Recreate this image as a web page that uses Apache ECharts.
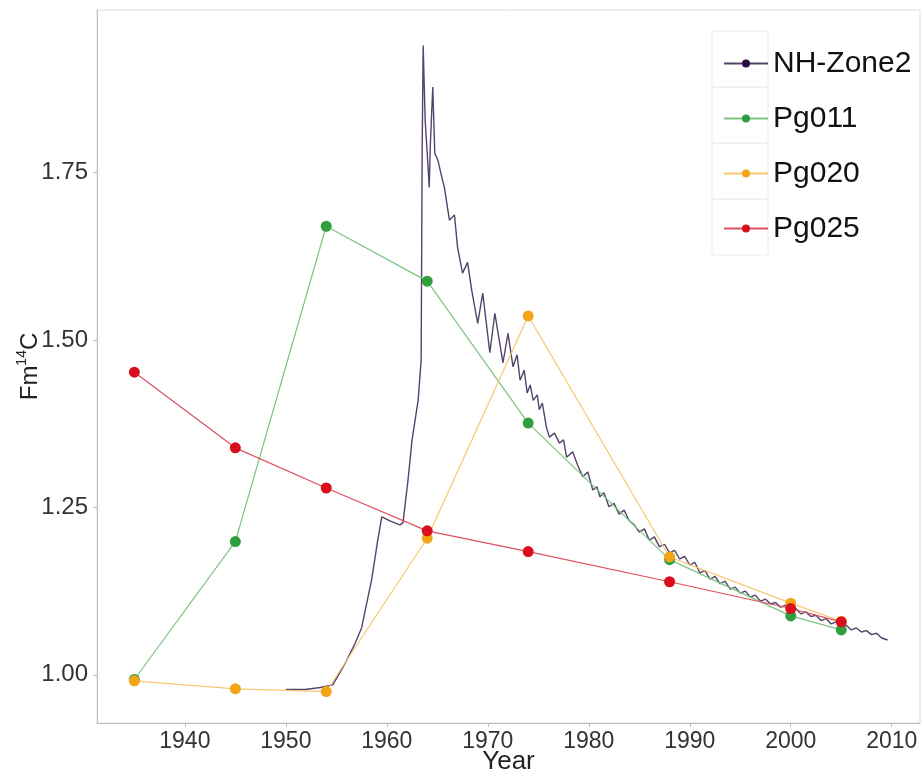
<!DOCTYPE html>
<html>
<head>
<meta charset="utf-8">
<script src="https://cdn.jsdelivr.net/npm/echarts@6/dist/echarts.min.js"></script>
<style>
  html, body { margin: 0; padding: 0; background: #fff; }
  #chart { width: 923px; height: 777px; }
</style>
</head>
<body>
<div id="chart"></div>
<script>
// sample years shared by the three profiles
const sampleYears = [1935, 1945, 1954, 1964, 1974, 1988, 2000, 2005]
const pg011 = [0.993, 1.199, 1.670, 1.588, 1.376, 1.172, 1.088, 1.067]
const pg020 = [0.991, 0.979, 0.975, 1.204, 1.536, 1.176, 1.107, 1.080]
const pg025 = [1.452, 1.339, 1.279, 1.215, 1.184, 1.139, 1.099, 1.079]

// atmospheric record
const nhYears = [
  1950.0, 1951.9, 1953.4, 1954.65, 1955.8, 1956.8, 1957.5, 1958.5, 1959.1, 1959.5,
  1960.3, 1961.3, 1961.6, 1962.1, 1962.5, 1963.1, 1963.4, 1963.5, 1963.6, 1963.8,
  1964.0, 1964.2, 1964.3, 1964.55, 1964.75, 1965.05, 1965.45, 1965.7, 1966.2, 1966.7,
  1967.0, 1967.5, 1968.0, 1968.4, 1969.0, 1969.5, 1970.2, 1970.7, 1971.5, 1972.0,
  1972.5, 1972.9, 1973.2, 1973.6, 1973.9, 1974.2, 1974.5, 1974.9, 1975.1, 1975.4,
  1975.8, 1976.1, 1976.6, 1977.1, 1977.5, 1977.8, 1978.4, 1978.9, 1979.4, 1979.9,
  1980.4, 1980.8, 1981.1, 1981.5, 1982.0, 1982.5, 1983.0, 1983.5, 1984.0, 1984.5,
  1985.0, 1985.5, 1986.0, 1986.5, 1987.0, 1987.5, 1988.0, 1988.5, 1989.0, 1989.5,
  1990.0, 1990.5, 1991.0, 1991.5, 1992.0, 1992.5, 1993.0, 1993.5, 1994.0, 1994.5,
  1995.0, 1995.5, 1996.0, 1996.5, 1997.0, 1997.5, 1998.0, 1998.5, 1999.0, 1999.5,
  2000.0, 2000.5, 2001.0, 2001.5, 2002.0, 2002.5, 2003.0, 2003.5, 2004.0, 2004.5,
  2005.0, 2005.5, 2006.0, 2006.5, 2007.0, 2007.5, 2008.0, 2008.5, 2009.0, 2009.6
]
const nhValues = [
  0.978, 0.978, 0.981, 0.985, 1.015, 1.045, 1.070, 1.142, 1.201, 1.236,
  1.230, 1.224, 1.227, 1.291, 1.351, 1.410, 1.470, 1.784, 1.940, 1.828,
  1.779, 1.728, 1.788, 1.878, 1.779, 1.769, 1.743, 1.728, 1.679, 1.687,
  1.639, 1.600, 1.616, 1.575, 1.525, 1.570, 1.481, 1.540, 1.466, 1.510,
  1.460, 1.478, 1.440, 1.455, 1.421, 1.433, 1.410, 1.418, 1.396, 1.406,
  1.370, 1.355, 1.361, 1.346, 1.351, 1.325, 1.333, 1.313, 1.296, 1.303,
  1.276, 1.281, 1.266, 1.272, 1.251, 1.256, 1.240, 1.246, 1.230, 1.224,
  1.213, 1.218, 1.201, 1.206, 1.191, 1.195, 1.182, 1.186, 1.173, 1.177,
  1.164, 1.168, 1.152, 1.156, 1.143, 1.147, 1.136, 1.140, 1.128, 1.131,
  1.122, 1.125, 1.116, 1.119, 1.110, 1.113, 1.106, 1.108, 1.101, 1.104,
  1.096, 1.099, 1.091, 1.094, 1.087, 1.089, 1.081, 1.084, 1.076, 1.079,
  1.072, 1.074, 1.067, 1.070, 1.064, 1.066, 1.060, 1.062, 1.055, 1.052
]

const xTicks = [1940, 1950, 1960, 1970, 1980, 1990, 2000, 2010]
const yTicks = [1.00, 1.25, 1.50, 1.75]

const zip = (xs, ys) => xs.map((x, i) => [x, ys[i]])

const font = 'Liberation Sans, Arial, sans-serif'

function profile (name, values, dot, line) {
  return {
    name: name,
    type: 'line',
    data: zip(sampleYears, values),
    symbol: 'circle',
    symbolSize: 11,
    itemStyle: { color: dot },
    lineStyle: { color: line, width: 1.2 },
    emphasis: { disabled: true },
    z: 3
  }
}

const chart = echarts.init(document.getElementById('chart'), null, { renderer: 'canvas' })

chart.setOption({
  animation: false,
  backgroundColor: '#fff',
  grid: {
    left: 97,
    right: 3,
    top: 10,
    bottom: 54,
    outerBoundsMode: 'none',
    containLabel: false,
    show: true,
    borderColor: '#dcdcdc',
    borderWidth: 1
  },
  xAxis: {
    type: 'value',
    min: 1931.3,
    max: 2012.8,
    name: 'Year',
    nameLocation: 'middle',
    nameGap: 26,
    nameMoveOverlap: false,
    nameTextStyle: { fontSize: 26, color: '#222', fontFamily: font },
    splitLine: { show: false },
    axisLine: { lineStyle: { color: '#bdbdbd' } },
    axisTick: { customValues: xTicks, length: 4, lineStyle: { color: '#bdbdbd' } },
    axisLabel: {
      customValues: xTicks,
      fontSize: 23,
      color: '#333',
      fontFamily: font,
      margin: 7,
      formatter: (v) => String(v)
    }
  },
  yAxis: {
    type: 'value',
    min: 0.928,
    max: 1.993,
    name: '{a|Fm}{b|14}{a|C}',
    nameLocation: 'middle',
    nameRotate: 90,
    nameGap: 52,
    nameMoveOverlap: false,
    nameTextStyle: {
      color: '#222',
      fontFamily: font,
      rich: {
        a: { fontSize: 24, lineHeight: 30, color: '#222', fontFamily: font },
        b: { fontSize: 14, lineHeight: 15, verticalAlign: 'top', color: '#222', fontFamily: font }
      }
    },
    splitLine: { show: false },
    axisLine: { show: true, lineStyle: { color: '#bdbdbd' } },
    axisTick: { show: true, customValues: yTicks, length: 4, lineStyle: { color: '#bdbdbd' } },
    axisLabel: {
      customValues: yTicks,
      fontSize: 24,
      color: '#333',
      fontFamily: font,
      margin: 9,
      formatter: (v) => v.toFixed(2)
    }
  },
  legend: {
    orient: 'vertical',
    left: 718,
    top: 42,
    itemWidth: 44,
    itemHeight: 10,
    itemGap: 22,
    textStyle: { fontSize: 30, color: '#111', fontFamily: font, lineHeight: 33 },
    data: ['NH-Zone2', 'Pg011', 'Pg020', 'Pg025']
  },
  graphic: [
    { type: 'rect', shape: { x: 712, y: 31, width: 56, height: 56 }, style: { fill: 'none', stroke: '#ececec' }, silent: true },
    { type: 'rect', shape: { x: 712, y: 87, width: 56, height: 56 }, style: { fill: 'none', stroke: '#ececec' }, silent: true },
    { type: 'rect', shape: { x: 712, y: 143, width: 56, height: 56 }, style: { fill: 'none', stroke: '#ececec' }, silent: true },
    { type: 'rect', shape: { x: 712, y: 199, width: 56, height: 56 }, style: { fill: 'none', stroke: '#ececec' }, silent: true }
  ],
  series: [
    {
      name: 'NH-Zone2',
      type: 'line',
      data: zip(nhYears, nhValues),
      symbol: 'circle',
      symbolSize: 9,
      showSymbol: false,
      itemStyle: { color: '#2e0a3f' },
      lineStyle: { color: '#54436a', width: 1.4 },
      emphasis: { disabled: true },
      z: 2
    },
    profile('Pg011', pg011, '#2f9e3f', '#7cc482'),
    profile('Pg020', pg020, '#f2a516', '#f8c670'),
    profile('Pg025', pg025, '#d8101e', '#e0505e')
  ]
})
</script>
</body>
</html>
